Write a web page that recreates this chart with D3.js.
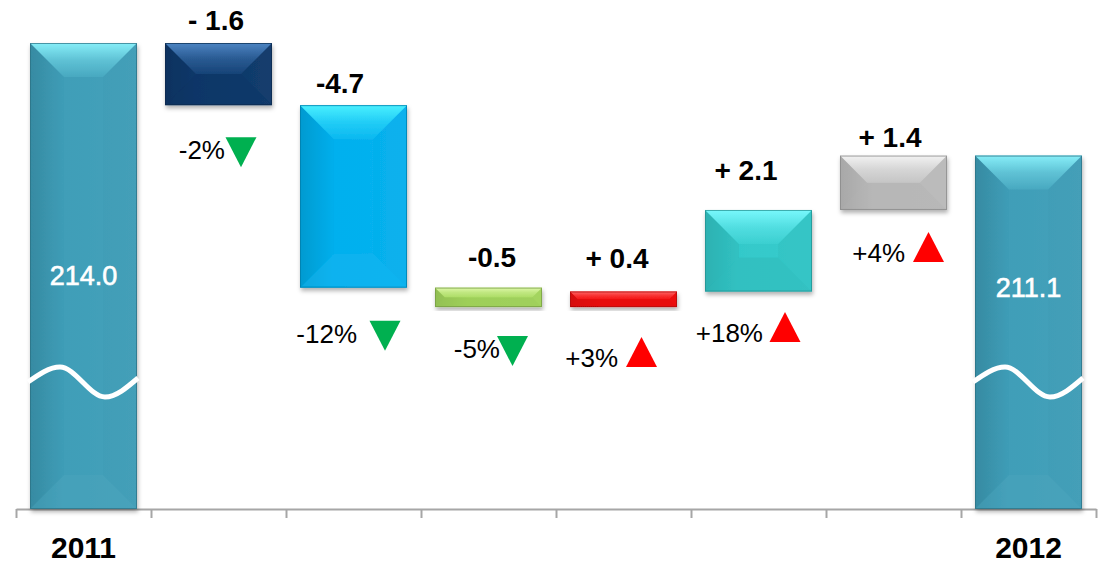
<!DOCTYPE html>
<html>
<head>
<meta charset="utf-8">
<script src="https://cdn.jsdelivr.net/npm/d3@7"></script>
<style>
  html, body { margin: 0; padding: 0; background: #ffffff; }
  svg { display: block; }
</style>
</head>
<body>
<script>
// ---- data ----
const categories = ["2011", "s1", "s2", "s3", "s4", "s5", "s6", "2012"];
const axisLabels = ["2011", "", "", "", "", "", "", "2012"];
const startTotal = 214.0;
const endTotal = 211.1;
const deltas = [-1.6, -4.7, -0.5, 0.4, 2.1, 1.4];
const deltaLabels = ["- 1.6", "-4.7", "-0.5", "+ 0.4", "+ 2.1", "+ 1.4"];
const pctLabels = ["-2%", "-12%", "-5%", "+3%", "+18%", "+4%"];
const totalLabels = ["214.0", "211.1"];
const axisFloor = 202;

// ---- styling / layout ----
const W = 1101, H = 563;
const totalColor = "#3f9eb8", totalHighlight = "#86eef8";
const deltaColors = ["#0f3a6d", "#02b0ee", "#a6d95e", "#f20a0a", "#33c9ca", "#bfbfbf"];
const deltaHighlights = ["#4c84c2", "#4af0ff", "#dff8aa", "#ff6a6a", "#78f8fc", "#f2f2f2"];
const upColor = "#ff0000", downColor = "#00b050";
// label nudges (px) relative to bar centre / edges
const deltaLabelDx = [-2.5, -13.5, 3.5, -6.5, -12.5, -3.5];
const deltaLabelGap = [13, 12, 21, 24, 30, 8.5];
const pctGap = [54, 55, 51, 60, 50.5, 52];
const pctTextEnd = [6.5, 3.5, 11.5, -5.5, 4.5, 11.5];
const triDx = [22.5, 31.5, 24, 18, 26.5, 35];
const totalLabelY = [285, 297];
const breakY = 382;

const svg = d3.select("body").append("svg")
  .attr("width", W).attr("height", H)
  .style("font-family", "'Liberation Sans', Arial, sans-serif");
const defs = svg.append("defs");

const shadow = defs.append("filter").attr("id", "shadow")
  .attr("x", "-10%").attr("y", "-10%").attr("width", "130%").attr("height", "130%");
shadow.append("feDropShadow").attr("dx", 1).attr("dy", 3)
  .attr("stdDeviation", 2).attr("flood-color", "#000").attr("flood-opacity", 0.3);

// ---- scales ----
const x = d3.scaleBand().domain(categories)
  .range([16, 1096]).paddingInner(0.2074).paddingOuter(0.1037);
const y = d3.scaleLinear().domain([axisFloor, startTotal]).range([509, 43]);
const xEdge = d3.scaleLinear().domain([0, categories.length]).range(x.range());

// ---- waterfall segments ----
const bars = [];
bars.push({ key: categories[0], lo: axisFloor, hi: startTotal,
            color: totalColor, light: totalHighlight, total: true });
let run = startTotal;
deltas.forEach((d, i) => {
  const next = run + d;
  bars.push({ key: categories[i + 1], lo: Math.min(run, next), hi: Math.max(run, next),
              color: deltaColors[i], light: deltaHighlights[i], delta: d, idx: i });
  run = next;
});
bars.push({ key: categories[categories.length - 1], lo: axisFloor, hi: endTotal,
            color: totalColor, light: totalHighlight, total: true });

// ---- axis ----
const axisG = svg.append("g").attr("transform", `translate(0,${y(axisFloor)})`)
  .call(d3.axisBottom(xEdge).tickValues(d3.range(0, categories.length + 1))
    .tickFormat("").tickSize(9).tickSizeOuter(0));
axisG.select(".domain").attr("stroke", "#a6a6a6").attr("stroke-width", 2);
axisG.selectAll(".tick line").attr("stroke", "#a6a6a6").attr("stroke-width", 2);

const labelAxis = svg.append("g").attr("transform", `translate(0,${y(axisFloor)})`)
  .call(d3.axisBottom(x).tickSize(0).tickPadding(27.5)
    .tickFormat((d, i) => axisLabels[i]));
labelAxis.select(".domain").remove();
labelAxis.selectAll("text")
  .attr("font-family", "'Liberation Sans', Arial, sans-serif")
  .attr("font-size", 30).attr("font-weight", "bold").attr("fill", "#000");

// ---- bevelled bars ----
function bevelBar(g, x0, y0, w, h, color, light, id) {
  const d = Math.min(34, h / 2, w / 2);
  const tall = h > 120;
  const toWhite = d3.interpolateRgb(color, "#ffffff");
  const toBlack = d3.interpolateRgb(color, "#000000");
  const toLight = d3.interpolateRgb(color, light);

  const top = defs.append("linearGradient").attr("id", "top" + id)
    .attr("x1", 0).attr("y1", 0).attr("x2", 0).attr("y2", 1);
  top.append("stop").attr("offset", 0).attr("stop-color", light);
  top.append("stop").attr("offset", 0.5).attr("stop-color", toLight(0.45));
  top.append("stop").attr("offset", 1).attr("stop-color", toLight(0.12));

  const body = defs.append("linearGradient").attr("id", "body" + id)
    .attr("x1", 0).attr("y1", 0).attr("x2", 1).attr("y2", 0);
  body.append("stop").attr("offset", 0).attr("stop-color", toBlack(0.12));
  body.append("stop").attr("offset", 0.3).attr("stop-color", color);
  body.append("stop").attr("offset", 1).attr("stop-color", toWhite(0.03));

  const grp = g.append("g").attr("filter", "url(#shadow)");
  grp.append("rect").attr("x", x0).attr("y", y0).attr("width", w).attr("height", h)
    .attr("fill", `url(#body${id})`);
  const poly = pts => "M" + pts.map(p => p.join(",")).join("L") + "Z";
  // side and bottom facets (kept faint on the tall total bars)
  grp.append("path").attr("d", poly([[x0, y0], [x0 + d, y0 + d], [x0 + d, y0 + h - d], [x0, y0 + h]]))
    .attr("fill", toBlack(0.12)).attr("opacity", tall ? 0.08 : 0.35);
  grp.append("path").attr("d", poly([[x0 + w, y0], [x0 + w, y0 + h], [x0 + w - d, y0 + h - d], [x0 + w - d, y0 + d]]))
    .attr("fill", toBlack(0.08)).attr("opacity", tall ? 0.08 : 0.3);
  grp.append("path").attr("d", poly([[x0, y0 + h], [x0 + d, y0 + h - d], [x0 + w - d, y0 + h - d], [x0 + w, y0 + h]]))
    .attr("fill", tall ? toWhite(0.06) : toBlack(0.1)).attr("opacity", 0.45);
  // lit top facet
  grp.append("path").attr("d", poly([[x0, y0], [x0 + w, y0], [x0 + w - d, y0 + d], [x0 + d, y0 + d]]))
    .attr("fill", `url(#top${id})`);
  grp.append("rect").attr("x", x0 + 0.5).attr("y", y0 + 0.5).attr("width", w - 1).attr("height", h - 1)
    .attr("fill", "none").attr("stroke", toBlack(0.3)).attr("stroke-width", 1).attr("opacity", 0.7);
}

const barsG = svg.append("g");
bars.forEach((b, i) => {
  bevelBar(barsG, x(b.key), y(b.hi), x.bandwidth(), y(b.lo) - y(b.hi), b.color, b.light, i);
});

// ---- axis-break waves on the totals ----
const wave = d3.line().curve(d3.curveMonotoneX);
bars.filter(b => b.total).forEach(b => {
  const x0 = x(b.key), w = x.bandwidth();
  svg.append("path")
    .attr("d", wave([[x0 - 2, breakY], [x0 + 30, breakY - 15], [x0 + 75, breakY + 15], [x0 + w + 1, breakY - 4]]))
    .attr("fill", "none").attr("stroke", "#ffffff").attr("stroke-width", 5);
});

// ---- total labels ----
bars.filter(b => b.total).forEach((b, i) => {
  svg.append("text")
    .attr("x", x(b.key) + x.bandwidth() / 2).attr("y", totalLabelY[i])
    .attr("text-anchor", "middle").attr("font-size", 27).attr("fill", "#ffffff")
    .attr("stroke", "#ffffff").attr("stroke-width", 0.6)
    .text(totalLabels[i]);
});

// ---- delta labels, percentages and arrows ----
bars.filter(b => b.delta !== undefined).forEach(b => {
  const i = b.idx;
  const cx = x(b.key) + x.bandwidth() / 2;
  svg.append("text")
    .attr("x", cx + deltaLabelDx[i]).attr("y", y(b.hi) - deltaLabelGap[i])
    .attr("text-anchor", "middle").attr("font-size", 28).attr("font-weight", "bold")
    .attr("fill", "#000").text(deltaLabels[i]);

  const base = y(b.lo) + pctGap[i];
  svg.append("text")
    .attr("x", cx + pctTextEnd[i]).attr("y", base)
    .attr("text-anchor", "end").attr("font-size", 26).attr("fill", "#000")
    .text(pctLabels[i]);

  const tx = cx + triDx[i], hw = 15.5;
  const up = b.delta > 0;
  const pts = up
    ? [[tx - hw, base], [tx + hw, base], [tx, base - 30]]
    : [[tx - hw, base - 22], [tx + hw, base - 22], [tx, base + 8]];
  svg.append("path")
    .attr("d", "M" + pts.map(p => p.join(",")).join("L") + "Z")
    .attr("fill", up ? upColor : downColor);
});
</script>
</body>
</html>
